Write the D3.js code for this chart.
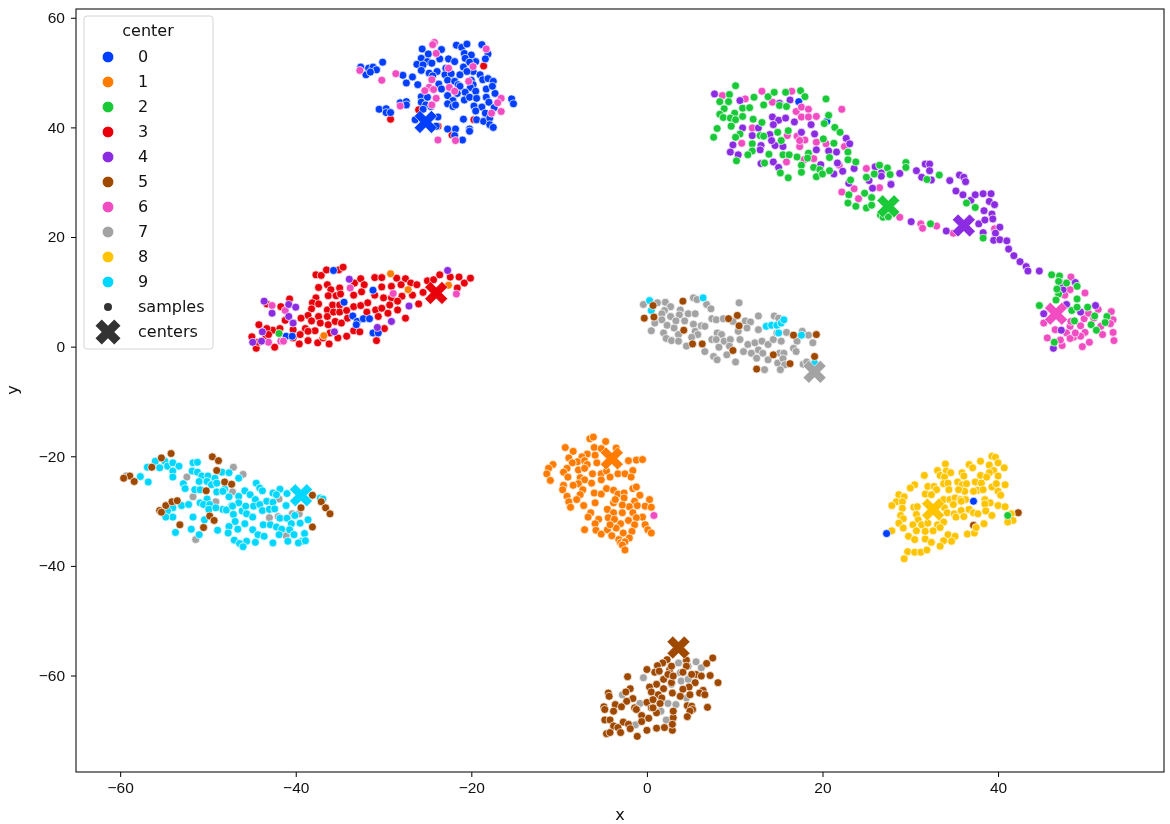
<!DOCTYPE html>
<html>
<head>
<meta charset="utf-8">
<script src="https://cdn.jsdelivr.net/npm/d3@7"></script>
<style>
    html, body { margin: 0; padding: 0; background: #fff; }
    svg { display: block; font-family: "DejaVu Sans", sans-serif; filter: blur(0.4px); }
    .tick text { font-size: 15.5px; fill: #111; }
    .dot { stroke: #fff; stroke-width: 0.7; }
</style>
</head>
<body>
<svg id="chart" width="1170" height="824"></svg>
<script>
// values, one list per predicted center
var centers = ["0", "1", "2", "3", "4", "5", "6", "7", "8", "9"];
var palette = ["#023eff", "#ff7c00", "#1ac938", "#e8000b", "#8b2be2", "#9f4800", "#f14cc1", "#a3a3a3", "#ffc400", "#00d7ff"];
var xTicks = [-60, -40, -20, 0, 20, 40];
var yTicks = [-60, -40, -20, 0, 20, 40, 60];

var centerPoints = [[-25.2, 41.0], [-4.0, -20.4], [27.5, 25.6], [-24.0, 9.8], [36.1, 22.1], [3.6, -54.9], [46.6, 6.0], [19.1, -4.6], [32.6, -29.7], [-39.4, -27.1]];

var samples0 = [[-32.6,51.0],[-32.0,49.6],[-31.7,50.8],[-31.2,51.0],[-30.8,50.5],[-31.5,50.1],[-30.1,51.9],[-27.8,49.5],[-26.7,49.2],[-27.4,48.1],[-26.1,47.8],[-30.5,43.3],[-29.7,43.4],[-29.7,42.7],[-29.2,42.7],[-28.1,44.5],[-27.4,44.7],[-27.4,44.1],[-25.6,54.3],[-24.9,53.4],[-23.4,54.2],[-25.7,52.6],[-26.2,51.5],[-25.0,52.0],[-24.5,51.7],[-25.5,51.4],[-23.6,52.5],[-22.6,52.5],[-21.9,52.0],[-25.7,50.4],[-24.8,49.9],[-23.9,50.2],[-24.4,49.4],[-22.9,50.8],[-21.7,55.0],[-21.1,54.6],[-20.5,55.2],[-20.8,53.5],[-20.0,53.2],[-20.7,52.6],[-18.8,55.1],[-18.1,53.4],[-18.4,52.5],[-19.5,52.0],[-20.2,51.9],[-20.9,51.0],[-19.8,50.2],[-20.5,50.2],[-23.0,49.6],[-22.3,49.8],[-21.3,49.6],[-22.7,48.6],[-21.9,48.4],[-21.5,47.8],[-23.7,47.9],[-19.0,49.6],[-18.7,48.7],[-18.1,48.9],[-17.5,48.4],[-20.0,48.6],[-19.8,47.8],[-20.1,47.3],[-21.3,47.5],[-23.4,47.0],[-19.5,46.6],[-18.3,47.0],[-20.7,46.4],[-22.7,45.8],[-21.6,46.2],[-22.1,44.9],[-20.8,45.0],[-20.2,45.5],[-19.4,45.3],[-18.3,45.5],[-17.3,46.2],[-17.6,47.5],[-18.0,44.6],[-19.7,43.9],[-18.8,43.7],[-17.4,43.6],[-18.4,42.6],[-19.5,43.0],[-22.7,44.3],[-22.1,43.8],[-21.8,44.1],[-25.7,45.6],[-25.0,45.5],[-25.7,44.6],[-25.2,44.1],[-24.6,43.8],[-25.5,43.3],[-15.4,45.2],[-15.2,44.3],[-20.9,41.5],[-19.4,41.4],[-18.6,41.1],[-17.9,41.7],[-17.9,40.5],[-17.5,40.0],[-20.2,39.7],[-20.2,39.3],[-22.7,39.7],[-21.8,39.7],[-21.9,38.5],[-21.0,37.7],[-23.8,41.9],[-24.5,42.0],[-26.4,41.4],[-24.0,40.2],
    [17.3,44.7],[20.5,41.1],
    [-35.7,13.9],[-34.5,8.1],[-33.5,5.6],[-33.0,4.6],[-33.1,4.0],[-32.3,5.1],[-31.6,5.1],[-31.2,2.5],[-30.6,2.5],[-31.2,10.3],[-41.1,1.9],[-40.4,1.9],
    [37.2,-28.2],[27.3,-34.1]];

var samples1 = [[-6.5,-16.8],[-6.1,-16.5],[-4.7,-17.3],[-6.0,-18.4],[-9.3,-18.4],[-8.4,-19.1],[-5.9,-19.8],[-6.8,-19.6],[-7.4,-20.1],[-8.9,-20.3],[-7.9,-21.0],[-8.5,-21.2],[-7.1,-20.8],[-5.7,-21.2],[-6.8,-21.5],[-2.1,-20.8],[-1.2,-20.7],[-0.5,-20.6],[-3.5,-18.5],[-5.2,-18.6],[-10.7,-21.5],[-11.2,-22.2],[-11.4,-23.2],[-11.0,-24.4],[-9.1,-22.2],[-9.5,-22.9],[-9.0,-23.8],[-7.8,-22.5],[-7.1,-22.2],[-7.6,-23.9],[-7.1,-24.3],[-6.2,-23.2],[-5.2,-23.2],[-4.6,-22.7],[-3.3,-23.2],[-2.5,-23.2],[-1.6,-22.6],[-1.8,-23.8],[-7.8,-25.0],[-8.4,-25.3],[-6.3,-24.9],[-5.2,-24.3],[-4.2,-23.8],[-9.5,-25.3],[-9.6,-26.1],[-7.3,-26.1],[-7.6,-27.0],[-8.0,-27.9],[-9.1,-27.3],[-8.9,-28.3],[-8.7,-29.3],[-7.2,-29.0],[-5.9,-28.5],[-6.0,-26.7],[-5.2,-26.9],[-4.6,-25.9],[-3.8,-26.2],[-3.3,-26.9],[-2.6,-26.7],[-1.6,-25.9],[-1.2,-25.6],[-2.6,-27.6],[-3.8,-28.5],[-3.6,-27.9],[-0.8,-27.1],[0.3,-27.9],[-1.4,-28.2],[-2.0,-29.2],[-1.1,-29.0],[-0.2,-29.1],[0.5,-29.3],[-2.8,-28.9],[-4.5,-29.7],[-3.8,-30.3],[-2.8,-30.3],[-1.6,-30.3],[-0.5,-31.1],[-1.2,-31.2],[-2.1,-31.7],[-3.0,-32.3],[-1.4,-32.5],[-0.2,-32.5],[0.1,-33.4],[0.5,-34.0],[-4.4,-31.2],[-3.7,-31.5],[-5.5,-31.5],[-5.9,-32.3],[-6.4,-30.3],[-6.7,-31.1],[-7.1,-33.4],[-5.8,-33.5],[-5.2,-34.2],[-4.5,-33.4],[-4.0,-34.5],[-3.5,-33.1],[-2.7,-34.0],[-1.7,-33.7],[-2.0,-34.9],[-3.2,-35.2],[-3.0,-35.8],[-2.5,-35.6],[-2.8,-36.2],[-2.5,-37.1],[-4.2,-32.5],
    [-29.2,13.3],[-27.2,10.4],[-36.8,2.0],[-22.6,11.2]];

var samples2 = [[10.1,47.6],[9.4,46.0],[9.3,44.7],[8.3,44.7],[8.8,43.4],[8.3,42.4],[8.7,41.8],[10.0,42.6],[9.5,41.7],[10.1,41.4],[10.9,43.5],[11.7,43.6],[10.9,42.0],[12.2,45.5],[13.3,44.1],[13.8,45.6],[14.5,46.4],[15.8,46.4],[17.5,46.7],[18.0,45.6],[15.1,44.0],[15.9,43.8],[20.4,45.2],[12.1,41.5],[13.1,40.9],[8.0,39.8],[7.6,38.2],[9.6,40.2],[10.6,38.8],[10.1,38.2],[12.9,38.5],[13.3,38.4],[14.9,39.1],[15.3,37.6],[16.1,39.4],[20.7,42.2],[20.2,40.7],[21.4,40.0],[22.0,39.1],[20.1,37.9],[21.3,37.1],[12.0,37.0],[12.0,35.7],[11.5,35.0],[13.9,35.1],[15.5,35.0],[16.2,35.0],[17.1,34.6],[18.4,35.3],[18.3,34.4],[10.2,33.9],[13.4,33.5],[15.2,31.7],[16.1,30.8],[17.6,33.1],[17.6,31.8],[19.0,32.7],[19.7,32.3],[19.3,31.0],[20.0,31.5],[20.8,34.5],[20.8,32.1],[22.9,35.5],[22.9,34.1],[23.8,33.7],[23.2,30.4],[25.0,30.9],[25.9,31.5],[26.5,33.1],[27.4,32.6],[27.7,31.4],[23.0,27.7],[22.9,26.2],[23.8,25.6],[24.8,28.0],[25.6,27.2],[25.0,25.3],[25.6,25.8],
    [26.6,24.0],[26.9,23.6],[27.5,23.7],[32.3,22.4],[33.3,31.3],[29.5,33.6],[29.5,32.7],[31.9,30.5],[36.4,26.2],[37.4,25.4],[38.3,19.8],[46.1,13.1],[47.0,12.9],[46.9,11.9],[47.8,11.6],[49.0,11.0],[46.9,9.6],[46.6,8.5],[49.0,8.7],[44.7,7.5],[50.2,7.2],[48.4,6.6],[49.0,7.2],[51.0,5.6],[52.4,5.5],[52.2,4.4],[48.7,4.7],[50.6,4.0],[51.2,3.0],[46.4,0.8],[46.7,10.5],
    [41.1,-30.8],[-41.9,2.4]];

var samples3 = [[-37.7,13.1],[-37.1,13.0],[-36.5,14.0],[-35.1,14.0],[-34.6,14.5],[-33.3,11.6],[-32.6,12.4],[-32.2,11.3],[-37.4,10.8],[-36.4,11.3],[-36.0,10.4],[-35.0,10.7],[-36.3,9.3],[-35.4,9.3],[-34.9,9.6],[-33.4,9.4],[-32.5,10.0],[-31.0,12.6],[-30.2,12.6],[-28.5,12.5],[-27.5,12.4],[-28.0,11.3],[-26.9,11.6],[-26.2,11.3],[-25.0,12.0],[-24.3,12.2],[-23.6,13.1],[-22.4,12.7],[-21.4,12.7],[-20.8,11.6],[-20.1,12.5],[-21.6,10.7],[-25.5,9.9],[-26.7,9.4],[-29.1,11.0],[-30.2,10.9],[-31.0,9.4],[-27.9,9.2],[-29.1,8.9],[-30.0,8.9],[-37.7,8.9],[-38.1,8.0],[-40.7,8.7],[-43.3,7.8],[-41.7,7.3],[-38.2,6.9],[-37.4,7.8],[-36.4,6.7],[-35.8,7.6],[-35.0,7.6],[-33.4,7.3],[-32.6,7.5],[-31.8,8.0],[-30.9,6.7],[-30.2,7.0],[-29.3,7.6],[-28.4,8.3],[-28.4,6.7],[-26.0,7.8],[-29.5,6.1],[-27.5,5.2],[-38.6,5.7],[-39.4,5.2],[-41.2,4.8],[-37.4,5.5],[-36.4,5.5],[-35.7,6.3],[-35.0,6.3],[-34.2,6.6],[-34.1,5.2],[-31.9,6.3],[-30.6,5.5],[-44.2,4.0],[-42.6,3.0],[-41.8,3.3],[-43.3,3.3],[-43.4,1.7],[-45.0,1.8],[-44.5,-0.3],[-44.3,0.8],[-42.4,-0.1],[-40.3,4.3],[-38.9,3.3],[-38.2,4.7],[-37.2,4.3],[-36.3,4.0],[-35.5,4.6],[-34.8,4.3],[-37.8,2.9],[-36.1,2.5],[-40.3,3.1],[-40.3,1.6],[-39.5,2.2],[-39.6,0.5],[-38.6,1.1],[-37.5,0.7],[-36.9,1.6],[-36.2,0.5],[-35.2,1.6],[-34.2,1.9],[-33.4,2.9],[-32.7,2.7],[-29.9,3.3],[-30.8,1.1],[-43.1,2.2],[-38.6,2.8],
    [-18.6,51.2],[-19.7,41.4],[-29.2,41.5],[-26.0,43.2],[-23.8,40.2],[-22.2,38.6]];

var samples4 = [[7.7,46.1],[10.6,44.9],[16.3,45.0],[15.1,44.4],[14.3,41.9],[15.0,41.3],[15.8,41.7],[16.8,41.0],[18.7,40.5],[10.9,39.9],[12.7,39.9],[12.0,38.5],[14.0,38.7],[14.4,40.5],[17.6,39.1],[19.1,38.8],[9.8,36.8],[9.5,35.5],[10.4,35.0],[13.0,36.7],[12.9,35.9],[14.6,36.7],[15.5,36.5],[14.2,37.6],[19.3,35.9],[20.7,35.7],[21.6,35.5],[22.7,38.0],[23.1,37.0],[14.4,33.7],[15.0,32.7],[13.0,33.4],[19.8,33.2],[21.7,33.5],[22.3,32.0],[21.3,31.5],[23.6,32.5],[26.0,32.8],[26.7,31.7],[26.7,31.1],[25.3,30.3],[27.8,29.7],[23.0,29.8],[25.7,28.9],
    [30.7,32.1],[31.7,33.3],[32.2,33.3],[32.2,32.1],[32.4,30.4],[31.3,30.9],[28.8,31.6],[27.8,29.6],[34.5,30.3],[35.6,31.3],[36.1,30.9],[36.3,30.1],[35.2,28.4],[36.0,27.7],[36.9,26.7],[37.4,27.7],[38.3,27.9],[39.2,27.9],[39.0,26.5],[39.6,25.9],[38.4,24.8],[39.3,24.2],[39.4,23.3],[37.8,22.4],[38.5,23.1],[38.3,20.8],[40.2,21.8],[39.7,20.7],[34.1,21.1],[30.1,22.8],[39.5,19.4],[40.2,19.5],[41.0,19.3],[41.2,17.8],[41.8,16.6],[42.5,15.5],[43.2,14.6],[43.4,13.8],[44.7,13.8],[48.8,11.7],[47.4,10.4],[47.8,7.7],[49.4,6.3],[51.1,7.5],[45.2,6.0],[47.2,3.0],[46.3,-0.3],[47.1,11.6],
    [-43.6,8.3],[-40.8,7.7],[-40.0,7.2],[-42.7,6.1],[-40.8,5.5],[-40.3,4.3],[-43.8,2.7],[-43.9,1.0],[-44.9,0.8],[-35.6,2.7],[-33.9,12.3],[-29.1,4.6],[-27.1,7.4],[-22.7,13.9],[-30.7,3.5]];

var samples5 = [[7.5,-56.8],[6.8,-57.8],[4.5,-57.2],[2.3,-57.1],[1.8,-57.7],[1.2,-58.2],[0.0,-58.9],[0.9,-59.4],[1.4,-59.2],[2.6,-58.9],[2.8,-58.3],[4.5,-58.3],[7.2,-60.0],[8.1,-61.3],[-2.2,-60.2],[5.6,-59.8],[6.2,-60.1],[5.1,-59.8],[5.5,-61.3],[1.9,-60.7],[1.1,-61.6],[0.3,-62.1],[0.5,-63.0],[-1.9,-62.4],[-2.4,-63.0],[-4.4,-63.2],[-4.3,-63.8],[1.9,-62.4],[2.8,-61.3],[2.9,-63.2],[1.3,-63.5],[4.8,-62.1],[4.1,-62.5],[6.4,-62.7],[6.0,-63.2],[6.6,-63.5],[-1.6,-64.2],[-2.3,-64.7],[0.0,-64.9],[0.7,-64.4],[1.7,-64.1],[-3.6,-65.3],[-4.9,-65.7],[-4.8,-66.2],[-2.9,-65.7],[-3.8,-66.5],[-1.4,-65.9],[-1.2,-66.2],[0.5,-65.9],[1.1,-66.8],[-0.6,-67.3],[0.2,-67.8],[-0.6,-68.4],[4.6,-65.5],[5.1,-65.6],[5.2,-66.2],[4.9,-66.5],[4.6,-67.5],[6.9,-65.8],[3.0,-67.7],[3.0,-66.5],[-4.8,-68.1],[-4.2,-68.1],[-2.7,-68.5],[-3.8,-69.2],[-2.1,-68.9],[-3.3,-69.5],[-3.0,-70.4],[-4.6,-70.6],[-4.2,-70.4],[-1.9,-69.7],[-1.1,-71.1],[0.0,-70.0],[1.1,-69.6],[2.0,-69.5],[2.9,-70.0],[2.9,-68.9],[0.7,-65.9],[1.5,-65.1],[4.9,-63.5],[3.8,-63.8],[4.1,-59.4],[2.4,-59.8],[3.0,-60.1],
    [4.1,8.3],[0.7,7.5],[0.8,5.4],[-0.3,5.2],[4.2,3.0],[5.2,0.5],[6.3,0.5],[9.3,5.1],[10.3,5.7],[10.5,3.8],[9.8,-0.7],[14.4,-1.5],[12.5,-4.1],[16.3,-3.1],[16.7,2.1],[19.3,2.2],[19.1,-1.8],
    [-55.3,-20.3],[-54.2,-19.5],[-56.4,-22.0],[-58.9,-23.6],[-59.6,-24.0],[-58.4,-24.6],[-49.5,-20.1],[-48.8,-20.8],[-49.0,-22.6],[-48.1,-24.7],[-47.3,-25.1],[-50.2,-26.3],[-54.8,-29.0],[-54.1,-28.3],[-53.5,-28.1],[-55.5,-29.9],[-55.3,-30.2],[-49.8,-30.9],[-49.3,-31.7],[-53.2,-32.5],[-50.5,-33.0],[-38.1,-27.1],[-37.1,-28.3],[-36.6,-29.4],[-36.1,-30.5],[-39.4,-29.4],[-38.1,-32.9],
    [37.2,-32.6],[42.3,-30.3]];

var samples6 = [[-24.2,55.5],[-24.4,55.1],[-24.0,53.5],[-18.3,54.3],[-22.6,50.8],[-19.8,51.1],[-28.6,49.8],[-30.2,48.6],[-32.7,50.4],[-24.5,48.7],[-24.8,47.3],[-25.3,46.7],[-24.3,46.9],[-22.5,47.3],[-21.9,46.6],[-20.3,48.4],[-24.0,45.3],[-24.5,44.1],[-28.1,43.9],[-16.6,45.3],[-17.0,44.5],[-16.6,42.9],[-17.7,42.6],[-23.8,37.7],[-21.8,37.6],
    [8.6,45.8],[11.2,45.2],[13.1,46.6],[16.5,46.6],[14.3,44.6],[22.2,43.3],[17.0,42.9],[17.6,43.7],[18.4,43.3],[17.6,41.9],[18.4,41.9],[19.3,42.0],[12.0,39.9],[16.0,38.5],[17.1,38.4],[18.0,37.7],[17.4,36.5],[17.4,37.6],[19.3,37.3],[20.4,37.0],[22.5,36.5],[10.8,37.1],[15.9,33.7],[17.9,34.1],[19.0,34.3],[21.9,33.1],[25.0,32.5],[26.5,29.0],[23.6,28.8],[22.2,28.2],[24.1,27.0],
    [28.8,23.6],[31.2,22.4],[31.4,21.6],[33.0,22.0],[39.6,21.5],[34.9,20.7],[48.3,12.7],[48.2,10.4],[49.9,9.8],[47.6,9.4],[52.9,6.4],[51.4,6.8],[49.8,5.1],[53.1,4.9],[52.8,4.2],[49.4,3.8],[45.2,4.3],[46.5,3.1],[48.2,3.7],[49.9,2.6],[53.1,2.6],[51.9,2.2],[45.6,1.6],[47.8,2.5],[48.6,1.7],[49.4,1.9],[53.2,1.1],[50.4,0.8],[49.6,0.0],[47.3,0.2],[48.2,1.5],[47.1,1.2],[50.9,5.2],[51.7,3.7],[50.3,6.1],[48.3,4.6],[48.8,2.5],
    [-42.7,7.5],[-41.2,6.6],[-43.1,0.8],[-41.7,1.0],[-41.4,1.0],[-33.8,10.7],[-28.9,9.7],[-21.7,9.6],
    [0.8,-30.8]];

var samples7 = [[-0.4,7.7],[1.2,8.0],[2.1,8.1],[2.7,7.3],[2.0,6.6],[1.7,6.0],[3.8,6.7],[4.7,6.0],[5.5,6.0],[5.3,8.9],[5.7,8.6],[6.8,7.7],[7.3,6.9],[10.5,8.0],[2.7,5.5],[3.7,5.8],[1.7,4.9],[0.9,4.3],[0.5,2.9],[3.3,4.7],[4.3,4.7],[5.3,4.1],[2.3,3.9],[3.1,3.4],[1.9,2.5],[3.6,2.2],[2.2,1.5],[2.8,1.1],[3.6,1.0],[4.5,0.1],[5.5,2.8],[5.8,2.2],[5.1,1.7],[6.2,3.8],[6.6,3.7],[7.4,5.1],[7.9,4.9],[8.7,5.1],[9.8,4.6],[11.2,4.7],[11.8,4.5],[12.7,5.6],[14.5,5.6],[15.0,5.2],[7.4,1.3],[8.0,2.5],[8.5,2.2],[7.9,1.3],[8.8,1.0],[8.2,-0.1],[9.5,1.3],[9.4,0.1],[9.1,-1.5],[6.6,-0.9],[7.6,-1.8],[8.0,-2.4],[10.1,-2.8],[10.4,2.8],[11.4,3.4],[12.7,3.1],[10.6,1.3],[11.5,0.4],[12.3,0.7],[13.1,1.0],[13.8,0.4],[11.0,-0.9],[11.9,-1.2],[12.7,-0.6],[13.2,-1.2],[12.5,-2.1],[13.8,-2.4],[13.4,-4.2],[14.9,-3.0],[15.1,-1.2],[15.6,-1.2],[15.5,-2.2],[15.7,-3.3],[15.2,-4.2],[14.4,1.3],[15.3,1.0],[15.9,2.6],[17.7,2.8],[17.1,1.0],[18.4,2.1],[18.9,0.7],[16.7,-0.3],[17.0,-0.9],[17.8,-3.2],[18.2,-2.8],[14.8,2.5],
    [-47.1,-22.0],[-46.0,-23.3],[-52.4,-23.8],[-51.7,-27.4],[-49.1,-28.3],[-47.2,-26.5],[-41.9,-27.8],[-43.0,-31.2],[-40.4,-30.5],[-40.9,-31.3],[-42.0,-31.0],[-39.6,-30.5],[-41.1,-34.5],[-51.4,-35.2],[-59.3,-23.6],
    [3.6,-57.7],[5.6,-57.5],[4.7,-58.3],[6.2,-58.6],[-0.4,-60.4],[3.8,-59.5],[3.9,-61.0],[4.7,-60.7],[-2.8,-63.5],[3.8,-63.8],[4.5,-64.1],[2.4,-65.1],[3.3,-65.3],[-0.8,-65.1],[-1.2,-66.1],[2.8,-61.6],[2.2,-68.1],[-1.3,-69.0],[1.6,-66.5]];

var samples8 = [[39.3,-20.0],[39.7,-20.2],[38.0,-20.9],[36.7,-21.5],[37.1,-22.1],[39.0,-21.6],[40.0,-21.2],[40.7,-22.1],[39.5,-22.6],[39.0,-23.0],[34.0,-21.4],[33.1,-22.6],[34.1,-22.7],[34.6,-23.0],[33.4,-23.5],[33.9,-23.8],[31.6,-23.5],[35.9,-23.0],[36.1,-23.6],[38.0,-23.5],[38.7,-23.8],[40.0,-23.6],[33.8,-25.0],[30.5,-25.2],[30.0,-25.8],[32.0,-25.5],[32.7,-25.5],[33.0,-26.1],[34.3,-24.9],[35.4,-24.7],[35.9,-25.2],[36.4,-25.0],[37.4,-24.7],[38.1,-24.9],[39.3,-25.6],[40.8,-25.2],[39.8,-25.0],[40.0,-26.4],[40.3,-27.1],[37.7,-26.2],[38.3,-26.1],[37.2,-26.4],[36.2,-26.4],[35.5,-26.1],[34.4,-26.1],[31.7,-26.9],[32.4,-27.0],[28.7,-27.0],[29.3,-27.4],[28.4,-28.3],[29.1,-28.3],[27.9,-29.0],[29.1,-29.5],[30.4,-29.3],[30.8,-29.2],[33.8,-27.9],[34.5,-27.9],[35.1,-27.6],[35.7,-27.9],[36.3,-27.9],[34.9,-28.8],[35.8,-28.2],[38.5,-27.9],[39.1,-28.5],[40.0,-29.0],[38.5,-28.7],[40.8,-29.2],[33.9,-29.4],[34.2,-30.3],[35.8,-29.9],[36.7,-29.7],[37.2,-30.3],[35.0,-30.5],[35.2,-31.1],[36.1,-31.0],[37.7,-30.5],[38.6,-30.0],[39.3,-30.8],[28.9,-30.8],[30.7,-30.6],[30.9,-31.6],[29.2,-31.4],[28.7,-32.2],[30.3,-32.5],[31.3,-32.5],[32.0,-32.2],[33.1,-32.5],[33.8,-32.0],[29.2,-33.1],[29.8,-34.6],[30.7,-33.6],[30.5,-35.2],[31.7,-35.1],[32.4,-35.7],[32.6,-33.6],[33.4,-33.0],[34.3,-34.3],[35.1,-34.6],[34.7,-35.5],[33.8,-35.4],[33.4,-36.4],[36.5,-34.2],[37.3,-34.0],[37.5,-33.0],[38.4,-32.3],[41.5,-30.5],[41.7,-31.7],[41.1,-32.0],[29.7,-37.4],[30.5,-37.5],[31.2,-37.5],[31.9,-37.1],[29.3,-38.7],[27.9,-33.6],[31.7,-33.7]];

var samples9 = [[-57.7,-23.7],[-56.8,-24.7],[-56.9,-22.0],[-56.0,-20.9],[-55.5,-22.1],[-54.9,-20.9],[-54.6,-21.8],[-54.0,-21.2],[-53.3,-21.8],[-54.0,-22.7],[-54.0,-23.8],[-51.7,-21.2],[-51.2,-21.1],[-51.8,-22.7],[-51.2,-22.9],[-50.7,-23.6],[-50.0,-23.6],[-49.2,-24.0],[-51.0,-24.6],[-50.1,-24.6],[-49.6,-25.2],[-49.0,-24.9],[-48.4,-22.9],[-47.6,-23.0],[-46.5,-24.0],[-52.8,-25.0],[-52.6,-25.9],[-51.5,-26.1],[-50.9,-26.1],[-49.0,-26.5],[-48.1,-26.0],[-48.3,-26.4],[-46.5,-27.3],[-47.6,-27.4],[-45.8,-26.3],[-45.2,-27.0],[-44.5,-24.9],[-44.1,-25.8],[-43.8,-26.3],[-44.6,-27.9],[-46.5,-28.5],[-47.3,-29.0],[-48.3,-29.7],[-47.9,-29.8],[-50.9,-28.5],[-50.1,-27.8],[-50.5,-28.8],[-49.8,-28.8],[-49.9,-29.7],[-49.1,-29.4],[-53.0,-29.0],[-52.2,-28.8],[-54.0,-29.4],[-54.6,-30.0],[-54.0,-31.1],[-54.8,-31.1],[-51.7,-31.1],[-50.4,-31.6],[-51.9,-33.3],[-53.7,-33.9],[-51.0,-34.3],[-48.9,-33.5],[-47.2,-29.1],[-47.1,-30.6],[-46.9,-31.9],[-46.1,-30.0],[-45.7,-29.1],[-44.8,-29.1],[-45.6,-30.5],[-44.9,-31.1],[-45.8,-32.3],[-47.6,-32.8],[-46.6,-33.3],[-47.7,-34.0],[-47.0,-35.3],[-45.6,-35.5],[-46.4,-35.9],[-46.0,-36.5],[-44.6,-35.7],[-44.9,-33.4],[-44.3,-34.3],[-43.6,-34.6],[-43.7,-32.5],[-42.9,-32.5],[-44.1,-28.8],[-43.3,-28.2],[-42.6,-28.4],[-43.8,-29.9],[-43.0,-29.7],[-42.4,-29.6],[-42.6,-26.7],[-41.8,-26.0],[-42.2,-27.0],[-41.0,-26.8],[-41.1,-29.0],[-41.8,-31.3],[-41.0,-31.3],[-40.5,-32.3],[-39.5,-32.2],[-38.6,-31.6],[-40.7,-33.4],[-40.2,-34.3],[-39.0,-34.1],[-39.3,-35.5],[-40.9,-35.5],[-39.7,-35.8],[-38.9,-35.4],[-42.6,-35.8],[-42.2,-32.9],[-41.6,-33.3],[-41.9,-34.3],[-37.2,-27.6],[-36.9,-27.8],[-40.1,-30.8],
    [0.3,8.4],[0.5,6.6],[6.4,8.9],[13.6,3.7],[14.2,3.9],[14.8,3.9],[15.3,4.3],[15.6,4.9],[15.0,2.5],[17.6,2.1],[19.1,-3.0]];

var samplesByCenter = [samples0, samples1, samples2, samples3, samples4, samples5, samples6, samples7, samples8, samples9];
// minority colours have to stay visible on top of the big groups
var drawOrder = [7, 9, 5, 3, 1, 8, 0, 6, 4, 2];

var svg = d3.select("#chart");
var left = 76, right = 1164, top_ = 9, bottom = 772;

var xScale = d3.scaleLinear().domain([-65.03, 58.9]).range([left, right]);
var yScale = d3.scaleLinear().domain([-77.6, 61.6]).range([bottom, top_]);

// x marker, same outline as the matplotlib "X"
function xMarker(size) {
    var u = size / 4;
    var pts = [[-1,-2],[0,-1],[1,-2],[2,-1],[1,0],[2,1],[1,2],[0,1],[-1,2],[-2,1],[-1,0],[-2,-1]];
    var p = d3.path();
    pts.forEach(function (d, i) {
        if (i === 0) p.moveTo(d[0] * u, d[1] * u);
        else p.lineTo(d[0] * u, d[1] * u);
    });
    p.closePath();
    return p.toString();
}

drawOrder.forEach(function (c) {
    svg.append("g").selectAll("circle")
        .data(samplesByCenter[c])
        .enter().append("circle")
        .attr("class", "dot")
        .attr("cx", function (d) { return xScale(d[0]); })
        .attr("cy", function (d) { return yScale(d[1]); })
        .attr("r", 4)
        .attr("fill", palette[c]);
});

svg.append("g").selectAll("path")
    .data(centerPoints)
    .enter().append("path")
    .attr("d", xMarker(23))
    .attr("transform", function (d) { return "translate(" + xScale(d[0]) + "," + yScale(d[1]) + ")"; })
    .attr("fill", function (d, i) { return palette[i]; })
    .attr("stroke", "#fff")
    .attr("stroke-width", 0.6);

// axes
var xAxis = d3.axisBottom(xScale).tickValues(xTicks).tickSize(5).tickPadding(5);
var yAxis = d3.axisLeft(yScale).tickValues(yTicks).tickSize(5).tickPadding(6);
svg.append("g").attr("transform", "translate(0," + bottom + ")").call(xAxis)
    .call(function (g) { g.select(".domain").remove(); });
svg.append("g").attr("transform", "translate(" + left + ",0)").call(yAxis)
    .call(function (g) { g.select(".domain").remove(); });

svg.append("rect")
    .attr("x", left).attr("y", top_)
    .attr("width", right - left).attr("height", bottom - top_)
    .attr("fill", "none").attr("stroke", "#111").attr("stroke-width", 1.1);

svg.append("text").attr("x", (left + right) / 2).attr("y", 820)
    .attr("text-anchor", "middle").attr("font-size", 16).attr("fill", "#111").text("x");
svg.append("text").attr("transform", "translate(18,390) rotate(-90)")
    .attr("text-anchor", "middle").attr("font-size", 16).attr("fill", "#111").text("y");

// legend
var legend = svg.append("g");
legend.append("rect")
    .attr("x", 84).attr("y", 16).attr("width", 129).attr("height", 333).attr("rx", 3)
    .attr("fill", "#fff").attr("fill-opacity", 0.8).attr("stroke", "#d5d5d5").attr("stroke-width", 1);
legend.append("text").attr("x", 148).attr("y", 36)
    .attr("text-anchor", "middle").attr("font-size", 16).attr("fill", "#111").text("center");

var rowY = d3.scalePoint().domain(d3.range(12)).range([57, 332]);
centers.forEach(function (name, i) {
    legend.append("circle").attr("cx", 108).attr("cy", rowY(i)).attr("r", 5.8)
        .attr("fill", palette[i]).attr("stroke", "#fff").attr("stroke-width", 0.7);
    legend.append("text").attr("x", 138).attr("y", rowY(i) + 4.5)
        .attr("font-size", 16).attr("fill", "#111").text(name);
});
legend.append("circle").attr("cx", 108).attr("cy", rowY(10)).attr("r", 4)
    .attr("fill", "#333");
legend.append("text").attr("x", 138).attr("y", rowY(10) + 4.5)
    .attr("font-size", 16).attr("fill", "#111").text("samples");
legend.append("path").attr("d", xMarker(25))
    .attr("transform", "translate(108," + rowY(11) + ")").attr("fill", "#333");
legend.append("text").attr("x", 138).attr("y", rowY(11) + 4.5)
    .attr("font-size", 16).attr("fill", "#111").text("centers");
</script>
</body>
</html>
